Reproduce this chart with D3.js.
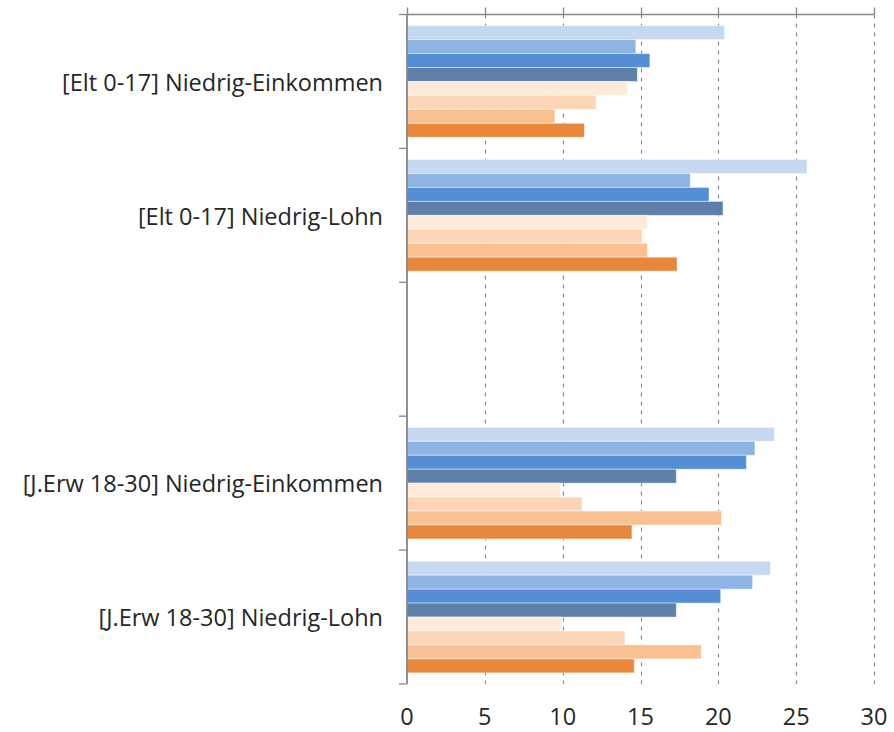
<!DOCTYPE html>
<html>
<head>
<meta charset="utf-8">
<script src="https://cdn.jsdelivr.net/npm/d3@7"></script>
<style>
	body { margin: 0; background: #fff; }
	text { font-family: "Open Sans", Lato, sans-serif; fill: #262626; }
</style>
</head>
<body>
<div id="chart"></div>
<script>
// categories, top to bottom (third slot is an empty category)
const categories = [
	"[Elt 0-17] Niedrig-Einkommen",
	"[Elt 0-17] Niedrig-Lohn",
	"",
	"[J.Erw 18-30] Niedrig-Einkommen",
	"[J.Erw 18-30] Niedrig-Lohn"
];

// series, in the order the bars are stacked inside a group (top to bottom)
const seriesNames = ["Reihe 1", "Reihe 2", "Reihe 3", "Reihe 4", "Reihe 5", "Reihe 6", "Reihe 7", "Reihe 8"];
const seriesColors = ["#c6d9f0", "#8eb4e3", "#558ed5", "#5e7fa8", "#fdeada", "#fbd5b5", "#f9c091", "#e7883c"];

const reihe1 = [20.4, 25.7, null, 23.6, 23.35];
const reihe2 = [14.7, 18.2, null, 22.35, 22.2];
const reihe3 = [15.6, 19.4, null, 21.8, 20.15];
const reihe4 = [14.8, 20.3, null, 17.3, 17.3];
const reihe5 = [14.15, 15.45, null, 9.85, 9.95];
const reihe6 = [12.15, 15.1, null, 11.25, 14.0];
const reihe7 = [9.5, 15.45, null, 20.2, 18.9];
const reihe8 = [11.4, 17.35, null, 14.45, 14.6];
const seriesValues = [reihe1, reihe2, reihe3, reihe4, reihe5, reihe6, reihe7, reihe8];

const xTicks = [0, 5, 10, 15, 20, 25, 30];

const width = 894,
	height = 732;
const plotLeft = 407,
	plotRight = 874,
	plotTop = 14.5,
	plotBottom = 684;

const svg = d3.select("#chart").append("svg")
	.attr("width", width)
	.attr("height", height);

// the original uses Calibri; size the substitute font so the longest label keeps its width
const probe = svg.append("text").attr("font-size", 20).text(categories[0]);
const fontSize = 20 * 321 / probe.node().getComputedTextLength();
probe.remove();

const x = d3.scaleLinear()
	.domain([0, 30])
	.range([plotLeft, plotRight]);

const y = d3.scaleBand()
	.domain(d3.range(categories.length))
	.range([plotTop, plotBottom]);

const yInner = d3.scaleBand()
	.domain(d3.range(seriesNames.length))
	.range([0, y.bandwidth()])
	.paddingOuter(0.8);

// dashed gridlines
svg.append("g")
	.selectAll("line")
	.data(xTicks.slice(1))
	.enter()
	.append("line")
	.attr("x1", d => Math.round(x(d)) + 0.5)
	.attr("x2", d => Math.round(x(d)) + 0.5)
	.attr("y1", plotTop)
	.attr("y2", plotBottom)
	.attr("stroke", "#8c8c8c")
	.attr("stroke-width", 1.2)
	.attr("stroke-dasharray", "4,5");

// bars
const rows = svg.append("g")
	.selectAll("g")
	.data(categories)
	.enter()
	.append("g")
	.attr("transform", (d, i) => "translate(0," + y(i) + ")");

rows.selectAll("rect")
	.data((d, i) => seriesValues.map((vals, s) => ({s: s, value: vals[i]})).filter(e => e.value != null))
	.enter()
	.append("rect")
	.attr("x", x(0))
	.attr("y", d => yInner(d.s))
	.attr("width", d => x(d.value) - x(0))
	.attr("height", yInner.bandwidth())
	.attr("fill", d => seriesColors[d.s])
	.attr("stroke", "#ffffff")
	.attr("stroke-opacity", 0.45)
	.attr("stroke-width", 1);

// category labels
rows.append("text")
	.attr("x", 383)
	.attr("y", y.bandwidth() / 2 + 1)
	.attr("dy", "0.35em")
	.attr("text-anchor", "end")
	.attr("font-size", fontSize)
	.text(d => d);

// top value axis line with upward ticks
const axisColor = "#868686";
svg.append("line")
	.attr("x1", plotLeft)
	.attr("x2", plotRight)
	.attr("y1", plotTop)
	.attr("y2", plotTop)
	.attr("stroke", axisColor)
	.attr("stroke-width", 1.5);

svg.append("g")
	.selectAll("line")
	.data(xTicks)
	.enter()
	.append("line")
	.attr("x1", d => Math.round(x(d)) + 0.5)
	.attr("x2", d => Math.round(x(d)) + 0.5)
	.attr("y1", plotTop - 7)
	.attr("y2", plotTop)
	.attr("stroke", axisColor)
	.attr("stroke-width", 1.3);

// category axis on the left
svg.append("line")
	.attr("x1", plotLeft)
	.attr("x2", plotLeft)
	.attr("y1", plotTop)
	.attr("y2", plotBottom)
	.attr("stroke", axisColor)
	.attr("stroke-width", 1.8);

svg.append("g")
	.selectAll("line")
	.data(d3.range(categories.length + 1))
	.enter()
	.append("line")
	.attr("x1", plotLeft - 8)
	.attr("x2", plotLeft)
	.attr("y1", d => d === categories.length ? plotBottom : (d === 0 ? plotTop : y(d)))
	.attr("y2", d => d === categories.length ? plotBottom : (d === 0 ? plotTop : y(d)))
	.attr("stroke", axisColor)
	.attr("stroke-width", 1.3);

// value labels along the bottom
svg.append("g")
	.selectAll("text")
	.data(xTicks)
	.enter()
	.append("text")
	.attr("x", d => x(d))
	.attr("y", 725)
	.attr("text-anchor", "middle")
	.attr("font-size", fontSize)
	.text(d => d);
</script>
</body>
</html>
